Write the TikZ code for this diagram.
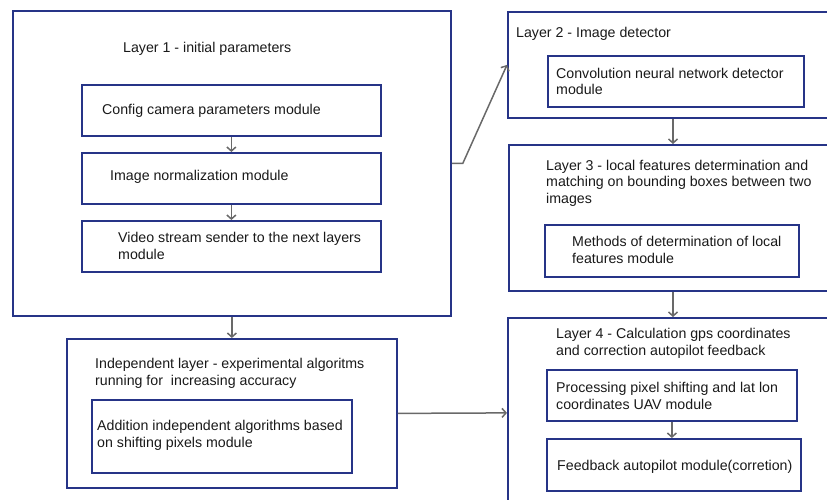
\documentclass[tikz,border=0pt]{standalone}
\usepackage{fontspec}
\setmainfont{Liberation Sans}
\usetikzlibrary{arrows.meta}
\definecolor{boxblue}{RGB}{38,52,135}
\definecolor{linegray}{RGB}{105,105,105}
\definecolor{txt}{RGB}{25,25,25}
\begin{document}
\begin{tikzpicture}[x=1pt,y=-1pt,
 box/.style={draw=boxblue,line width=1.8pt,inner sep=0pt,anchor=north west},
 lbl/.style={inner sep=0pt,anchor=base west,align=left,text=txt,font=\fontsize{14.2}{16.5}\selectfont},
 conn/.style={draw=linegray,line width=1.5pt,-{Straight Barb[length=4pt,width=9pt]}}]
\useasboundingbox (0,0) rectangle (827,500);
% boxes
\node[box,minimum width=438pt,minimum height=305pt] (L1) at (12,10) {};
\node[box,minimum width=299pt,minimum height=51pt] (cfg) at (81,84) {};
\node[box,minimum width=299pt,minimum height=51pt] (norm) at (81,152) {};
\node[box,minimum width=299pt,minimum height=51pt] (vid) at (81,220) {};
\node[box,minimum width=325pt,minimum height=106pt] (L2) at (507,11) {};
\node[box,minimum width=256pt,minimum height=51pt] (cnn) at (547,55) {};
\node[box,minimum width=324pt,minimum height=146pt] (L3) at (508,144) {};
\node[box,minimum width=254pt,minimum height=52pt] (meth) at (544,224) {};
\node[box,minimum width=330pt,minimum height=149pt] (ind) at (66,338) {};
\node[box,minimum width=260pt,minimum height=73pt] (add) at (91,399) {};
\node[box,minimum width=325pt,minimum height=190pt] (L4) at (507,317) {};
\node[box,minimum width=250pt,minimum height=51pt] (proc) at (546,369) {};
\node[box,minimum width=254pt,minimum height=52pt] (fb) at (546,438) {};
% texts (base anchor = baseline of last line)
\node[lbl] (t1) at (123,52.7) {Layer 1 - initial parameters};
\node[lbl] (tcfg) at (102,115) {Config camera parameters module};
\node[lbl] (tnorm) at (110,180.7) {Image normalization module};
\node[lbl] (tvid) at (118,259) {Video stream sender to the next layers\\module};
\node[lbl] (t2) at (516,37.3) {Layer 2 - Image detector};
\node[lbl] (tcnn) at (556,95) {Convolution neural network detector\\module};
\node[lbl] (t3) at (546,203.3) {Layer 3 - local features determination and\\matching on bounding boxes between two\\images};
\node[lbl] (tmeth) at (572,263.3) {Methods of determination of local\\features module};
\node[lbl] (tind) at (95,385) {Independent layer - experimental algoritms\\running for\ \ increasing accuracy};
\node[lbl] (tadd) at (97,447.3) {Addition independent algorithms based\\on shifting pixels module};
\node[lbl] (t4) at (556,355) {Layer 4 - Calculation gps coordinates\\and correction autopilot feedback};
\node[lbl] (tproc) at (556,409) {Processing pixel shifting and lat lon\\coordinates UAV module};
\node[lbl] (tfb) at (557,470.7) {Feedback autopilot module(corretion)};
% connectors
\draw[conn] (cfg.south) -- (norm.north);
\draw[conn] (norm.south) -- (vid.north);
\draw[conn] (L1.east) -- ++(11,0) -- (L2.west);
\draw[conn] (L1.south) -- (L1.south |- ind.north);
\coordinate (a23) at ([xshift=166pt]L2.south west);
\draw[conn] (a23) -- (a23 |- L3.north);
\coordinate (a34) at ([xshift=165pt]L3.south west);
\draw[conn] (a34) -- (a34 |- L4.north);
\draw[conn] (ind.east) -- (L4.west);
\draw[conn] (proc.south) -- (proc.south |- fb.north);
\end{tikzpicture}
\end{document}
